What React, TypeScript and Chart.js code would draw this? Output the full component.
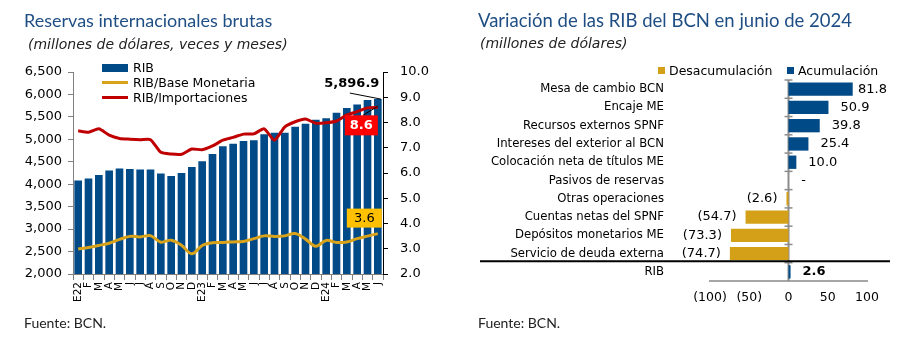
import React, { useEffect, useRef } from 'react';
import { Chart, registerables } from 'chart.js';

Chart.register(...registerables);

const FONT = '"DejaVu Sans", Verdana, sans-serif';
const TITLE_FONT = 'Lato, "Open Sans", sans-serif';

// ---- Left panel data ----
const months = ['E22','F','M','A','M','J','J','A','S','O','N','D','E23','F','M','A','M','J','J','A','S','O','N','D','E24','F','M','A','M','J'];
const rib = [4082,4127,4207,4304,4349,4340,4327,4327,4238,4185,4252,4385,4511,4674,4844,4904,4963,4978,5111,5148,5148,5282,5348,5437,5467,5593,5696,5778,5874,5896.9];
const ribBaseMonetaria = [2.99,3.05,3.13,3.22,3.37,3.49,3.47,3.52,3.26,3.34,3.14,2.80,3.13,3.24,3.25,3.27,3.29,3.40,3.51,3.49,3.51,3.60,3.38,3.10,3.33,3.25,3.27,3.40,3.50,3.60];
const ribImportaciones = [7.67,7.61,7.75,7.50,7.37,7.34,7.32,7.32,6.82,6.75,6.74,6.95,6.92,7.07,7.30,7.41,7.54,7.55,7.75,7.30,7.83,8.03,8.14,7.97,7.99,8.06,8.30,8.43,8.58,8.60];

// ---- Right panel data ----
const rubros = ['Mesa de cambio BCN','Encaje ME','Recursos externos SPNF','Intereses del exterior al BCN','Colocación neta de títulos ME','Pasivos de reservas','Otras operaciones','Cuentas netas del SPNF','Depósitos monetarios ME','Servicio de deuda externa','RIB'];
const acumulacion: (number | null)[] = [81.8,50.9,39.8,25.4,10.0,0,null,null,null,null,2.6];
const desacumulacion: (number | null)[] = [null,null,null,null,null,null,-2.6,-54.7,-73.3,-74.7,null];

const NAVY = '#004A87';
const GOLD_BAR = '#D4A017';
const GOLD_LINE = '#D9A21B';
const RED_LINE = '#C00000';

const fmtParen = (v: number) => (v === 0 ? '-' : v < 0 ? `(${Math.abs(v).toFixed(1)})` : v.toFixed(1));
const fmtTick = (v: number) => (v === 0 ? '0' : v < 0 ? `(${Math.abs(v)})` : String(v));

const leftAnnotations = {
  id: 'leftAnnotations',
  afterDatasetsDraw(chart: any) {
    const ctx = chart.ctx;
    const n = rib.length - 1;
    const bar = chart.getDatasetMeta(2).data[n];
    const red = chart.getDatasetMeta(1).data[n];
    const gold = chart.getDatasetMeta(0).data[n];
    const bx = bar.x, by = bar.y;
    ctx.save();
    ctx.strokeStyle = '#000';
    ctx.lineWidth = 1;
    ctx.beginPath();
    ctx.moveTo(bx - 28, by - 6);
    ctx.lineTo(bx + 3, by);
    ctx.stroke();
    ctx.fillStyle = '#000';
    ctx.font = `bold 13px ${FONT}`;
    ctx.textAlign = 'center';
    ctx.textBaseline = 'middle';
    ctx.fillText(rib[n].toLocaleString('en-US', { minimumFractionDigits: 1, maximumFractionDigits: 1 }), bx - 26, by - 15);
    ctx.beginPath();
    ctx.moveTo(bx - 15, red.y + 8);
    ctx.lineTo(bx, red.y - 1);
    ctx.stroke();
    ctx.fillStyle = '#FF0000';
    ctx.fillRect(bx - 33, red.y + 8, 33, 20);
    ctx.fillStyle = '#fff';
    ctx.font = `bold 13px ${FONT}`;
    ctx.fillText(ribImportaciones[n].toFixed(1), bx - 16.5, red.y + 18.5);
    ctx.fillStyle = '#FFC000';
    ctx.fillRect(bx - 31, gold.y - 25, 35, 19);
    ctx.fillStyle = '#000';
    ctx.font = `13px ${FONT}`;
    ctx.fillText(ribBaseMonetaria[n].toFixed(1), bx - 13.5, gold.y - 15);
    ctx.restore();
  },
};

const rightDecor = {
  id: 'rightDecor',
  beforeDatasetsDraw(chart: any) {
    const ctx = chart.ctx;
    const { top, bottom } = chart.chartArea;
    const x0 = chart.scales.x.getPixelForValue(0);
    ctx.save();
    ctx.strokeStyle = '#8c8c8c';
    ctx.lineWidth = 2;
    ctx.beginPath();
    ctx.moveTo(x0, top);
    ctx.lineTo(x0, bottom);
    ctx.stroke();
    const n = rubros.length;
    ctx.lineWidth = 1.5;
    for (let i = 0; i < n; i++) {
      const y = top + (i * (bottom - top)) / n;
      ctx.beginPath();
      ctx.moveTo(x0 - 4, y);
      ctx.lineTo(x0 + 4, y);
      ctx.stroke();
    }
    ctx.restore();
  },
  afterDatasetsDraw(chart: any) {
    const ctx = chart.ctx;
    const xs = chart.scales.x;
    const ys = chart.scales.y;
    const { top, bottom, right } = chart.chartArea;
    const n = rubros.length;
    ctx.save();
    const ySep = top + ((n - 1) * (bottom - top)) / n - 1.5;
    ctx.strokeStyle = '#000';
    ctx.lineWidth = 2;
    ctx.beginPath();
    ctx.moveTo(20, ySep);
    ctx.lineTo(right + 23, ySep);
    ctx.stroke();
    ctx.textBaseline = 'middle';
    ctx.fillStyle = '#000';
    const x0 = xs.getPixelForValue(0);
    for (let i = 0; i < n; i++) {
      const v = acumulacion[i] !== null ? (acumulacion[i] as number) : (desacumulacion[i] as number);
      const y = ys.getPixelForValue(i);
      const isTotal = i === n - 1;
      ctx.font = `${isTotal ? 'bold ' : ''}13px ${FONT}`;
      const txt = fmtParen(v);
      const xe = xs.getPixelForValue(v);
      if (v === 0) {
        ctx.textAlign = 'center';
        ctx.fillText(txt, x0 + 15, y);
      } else if (v > 0) {
        ctx.textAlign = 'left';
        let x = xe + 12;
        const w = ctx.measureText(txt).width;
        if (x + w > right + 20) x = right + 20 - w;
        ctx.fillText(txt, x, y);
      } else {
        ctx.textAlign = 'right';
        ctx.fillText(txt, xe - 9, y);
      }
    }
    ctx.restore();
  },
};

const T = (props: { x: number; cy: number; size: number; family?: string; italic?: boolean; bold?: boolean; color?: string; children: React.ReactNode }) => (
  <div
    style={{
      position: 'absolute',
      left: props.x,
      top: props.cy - props.size * 0.7,
      height: props.size * 1.4,
      lineHeight: `${props.size * 1.4}px`,
      fontSize: props.size,
      fontFamily: props.family || FONT,
      fontStyle: props.italic ? 'italic' : 'normal',
      fontWeight: props.bold ? 'bold' : 'normal',
      color: props.color || '#000',
      whiteSpace: 'nowrap',
    }}
  >
    {props.children}
  </div>
);

export default function App() {
  const leftRef = useRef<HTMLCanvasElement>(null);
  const rightRef = useRef<HTMLCanvasElement>(null);

  useEffect(() => {
    const left = new Chart(leftRef.current as HTMLCanvasElement, {
      type: 'bar',
      data: {
        labels: months,
        datasets: [
          { type: 'line', label: 'RIB/Base Monetaria', data: ribBaseMonetaria, yAxisID: 'y2', borderColor: GOLD_LINE, borderWidth: 3, pointRadius: 0, tension: 0.35, order: 0 } as any,
          { type: 'line', label: 'RIB/Importaciones', data: ribImportaciones, yAxisID: 'y2', borderColor: RED_LINE, borderWidth: 3, pointRadius: 0, tension: 0.2, order: 0 } as any,
          { type: 'bar', label: 'RIB', data: rib, yAxisID: 'y', backgroundColor: NAVY, barPercentage: 0.74, categoryPercentage: 1, order: 1 } as any,
        ],
      },
      options: {
        responsive: false,
        animation: false,
        devicePixelRatio: 1,
        layout: { padding: { top: 72, left: 0, right: 0, bottom: 0 } },
        plugins: { legend: { display: false }, tooltip: { enabled: false } },
        scales: {
          x: {
            grid: { display: true, drawOnChartArea: false, tickLength: 6, color: '#808080' },
            border: { color: '#808080' },
            ticks: { autoSkip: false, minRotation: 90, maxRotation: 90, font: { family: FONT, size: 10.5 }, color: '#000', padding: 2 },
            afterFit: (s: any) => { s.height = 67; },
          },
          y: {
            position: 'left',
            min: 2000,
            max: 6500,
            ticks: { stepSize: 500, callback: (v: any) => Number(v).toLocaleString('en-US'), font: { family: FONT, size: 13 }, color: '#000', padding: 6 },
            grid: { drawOnChartArea: false, tickLength: 5, color: '#808080' },
            border: { color: '#808080' },
            afterFit: (s: any) => { s.width = 73; },
          },
          y2: {
            position: 'right',
            min: 2,
            max: 10,
            ticks: { stepSize: 1, callback: (v: any) => Number(v).toFixed(1), font: { family: FONT, size: 13 }, color: '#000', padding: 12 },
            grid: { drawOnChartArea: false, tickLength: 5, color: '#000' },
            border: { color: '#000' },
            afterFit: (s: any) => { s.width = 77; },
          },
        },
      } as any,
      plugins: [leftAnnotations],
    });

    const right = new Chart(rightRef.current as HTMLCanvasElement, {
      type: 'bar',
      data: {
        labels: rubros,
        datasets: [
          { label: 'Acumulación', data: acumulacion, backgroundColor: NAVY, barPercentage: 0.73, categoryPercentage: 1 } as any,
          { label: 'Desacumulación', data: desacumulacion, backgroundColor: GOLD_BAR, barPercentage: 0.73, categoryPercentage: 1 } as any,
        ],
      },
      options: {
        indexAxis: 'y',
        responsive: false,
        animation: false,
        devicePixelRatio: 1,
        layout: { padding: { top: 80, right: 55, left: 0, bottom: 0 } },
        plugins: { legend: { display: false }, tooltip: { enabled: false } },
        scales: {
          x: {
            min: -100,
            max: 100,
            stacked: true,
            ticks: { stepSize: 50, autoSkip: false, minRotation: 0, maxRotation: 0, callback: (v: any) => fmtTick(Number(v)), font: { family: FONT, size: 12.5 }, color: '#000', padding: 9 },
            grid: { display: false, drawTicks: false },
            border: { display: true, color: '#a6a6a6', width: 2 },
            afterFit: (s: any) => { s.height = 60; },
          },
          y: {
            stacked: true,
            ticks: { font: { family: FONT, size: 11.7 }, color: '#000', padding: 46 },
            grid: { display: false, drawTicks: false },
            border: { display: false },
            afterFit: (s: any) => { s.width = 250; },
          },
        },
      } as any,
      plugins: [rightDecor],
    });

    return () => {
      left.destroy();
      right.destroy();
    };
  }, []);

  return (
    <div style={{ position: 'fixed', left: 0, top: 0, width: 922, height: 341, background: '#fff', overflow: 'hidden' }}>
      <canvas ref={leftRef} width={460} height={341} style={{ position: 'absolute', left: 0, top: 0, width: 460, height: 341 }} />
      <canvas ref={rightRef} width={462} height={341} style={{ position: 'absolute', left: 460, top: 0, width: 462, height: 341 }} />

      <T x={24} cy={21} size={18} family={TITLE_FONT} color="#1F4E85">Reservas internacionales brutas</T>
      <T x={28} cy={45} size={14} italic color="#222">(millones de dólares, veces y meses)</T>
      <T x={24} cy={323} size={14} family={TITLE_FONT} color="#222">Fuente: BCN.</T>

      <div style={{ position: 'absolute', left: 102, top: 64, width: 26, height: 8, background: NAVY }} />
      <T x={133} cy={68} size={12.5}>RIB</T>
      <div style={{ position: 'absolute', left: 102, top: 81, width: 26, height: 3, background: GOLD_LINE }} />
      <T x={133} cy={82.5} size={12.5}>RIB/Base Monetaria</T>
      <div style={{ position: 'absolute', left: 102, top: 96, width: 26, height: 3, background: RED_LINE }} />
      <T x={133} cy={97.5} size={12.5}>RIB/Importaciones</T>

      <T x={478} cy={21} size={18.5} family={TITLE_FONT} color="#1F4E85">Variación de las RIB del BCN en junio de 2024</T>
      <T x={480} cy={44} size={14} italic color="#222">(millones de dólares)</T>
      <T x={478} cy={323} size={14} family={TITLE_FONT} color="#222">Fuente: BCN.</T>

      <div style={{ position: 'absolute', left: 658, top: 67, width: 7, height: 7, background: GOLD_BAR }} />
      <T x={669} cy={71} size={12.5}>Desacumulación</T>
      <div style={{ position: 'absolute', left: 787, top: 67, width: 7, height: 7, background: NAVY }} />
      <T x={798} cy={71} size={12.5}>Acumulación</T>
    </div>
  );
}
